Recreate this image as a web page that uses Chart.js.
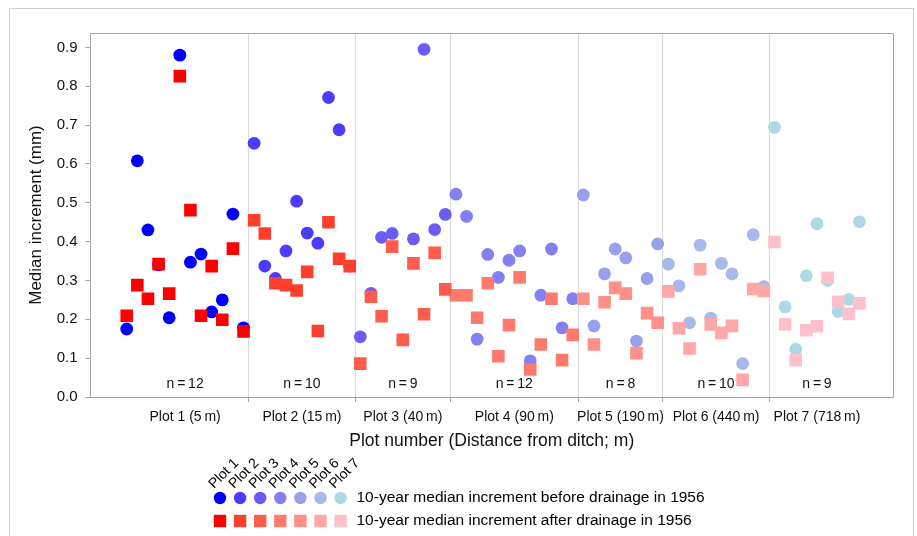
<!DOCTYPE html>
<html>
<head>
<meta charset="utf-8">
<script src="https://cdn.jsdelivr.net/npm/chart.js@4/dist/chart.umd.min.js"></script>
<style>
html,body{margin:0;padding:0;background:#fff;}
#wrap{position:relative;width:917px;height:536px;}
canvas{display:block;}
</style>
</head>
<body>
<div id="wrap"><canvas id="c" width="917" height="536"></canvas></div>
<script>
// ---------------- DATA ----------------
const plotLabels = ['Plot 1 (5\u2009m)', 'Plot 2 (15\u2009m)', 'Plot 3 (40\u2009m)', 'Plot 4 (90\u2009m)', 'Plot 5 (190\u2009m)', 'Plot 6 (440\u2009m)', 'Plot 7 (718\u2009m)'];
const legendPlotNames = ['Plot 1', 'Plot 2', 'Plot 3', 'Plot 4', 'Plot 5', 'Plot 6', 'Plot 7'];
const seriesNames = ['10-year median increment before drainage in 1956', '10-year median increment after drainage in 1956'];
const yTickLabels = ['0.0', '0.1', '0.2', '0.3', '0.4', '0.5', '0.6', '0.7', '0.8', '0.9'];
const xTitle = 'Plot number (Distance from ditch; m)';
const yTitle = 'Median increment (mm)';

// before drainage (circles), one value per tree, in plotted order
const plot1Before = [0.175, 0.608, 0.430, 0.340, 0.204, 0.880, 0.347, 0.368, 0.219, 0.250, 0.471, 0.178];
const plot2Before = [0.653, 0.337, 0.305, 0.376, 0.504, 0.422, 0.396, 0.771, 0.688, 0.337];
const plot3Before = [0.155, 0.267, 0.411, 0.421, 0.147, 0.407, 0.895, 0.431, 0.470];
const plot4Before = [0.522, 0.465, 0.149, 0.367, 0.308, 0.352, 0.376, 0.093, 0.262, 0.381, 0.178, 0.253];
const plot5Before = [0.520, 0.183, 0.317, 0.381, 0.358, 0.144, 0.305, 0.394];
const plot6Before = [0.342, 0.286, 0.191, 0.391, 0.203, 0.344, 0.317, 0.086, 0.418, 0.284];
const plot7Before = [0.694, 0.232, 0.123, 0.312, 0.446, 0.300, 0.220, 0.251, 0.451];

// after drainage (squares)
const plot1After = [0.209, 0.288, 0.253, 0.342, 0.266, 0.826, 0.481, 0.209, 0.337, 0.199, 0.382, 0.169];
const plot2After = [0.455, 0.421, 0.293, 0.288, 0.274, 0.322, 0.170, 0.450, 0.356, 0.337];
const plot3After = [0.086, 0.258, 0.208, 0.387, 0.147, 0.344, 0.213, 0.371, 0.277];
const plot4After = [0.262, 0.262, 0.204, 0.293, 0.105, 0.185, 0.308, 0.071, 0.135, 0.253, 0.095, 0.160];
const plot5After = [0.253, 0.135, 0.244, 0.281, 0.266, 0.113, 0.216, 0.191];
const plot6After = [0.272, 0.177, 0.125, 0.329, 0.187, 0.165, 0.183, 0.044, 0.278, 0.273];
const plot7After = [0.399, 0.187, 0.095, 0.172, 0.182, 0.307, 0.245, 0.214, 0.241];

// ---------------- STYLE ----------------
const beforeColors = ['#0000FF', '#4A3DFF', '#6C5CF7', '#8380F2', '#99A1EE', '#A5B9EC', '#ADD8E6'];
const afterColors  = ['#FF0000', '#FF3F2E', '#FF5C4D', '#FF7A6C', '#FF9089', '#FFA6A6', '#FFC0CB'];
const FONT = '"Liberation Sans", Arial, sans-serif';

const beforeSets = [plot1Before, plot2Before, plot3Before, plot4Before, plot5Before, plot6Before, plot7Before];
const afterSets  = [plot1After, plot2After, plot3After, plot4After, plot5After, plot6After, plot7After];

// build datasets: x = running tree index across plots
const datasets = [];
const sectionStart = [], sectionEnd = [];
let idx = 1;
beforeSets.forEach((b, p) => {
  const a = afterSets[p];
  const start = idx;
  const bPts = b.map((v, k) => ({x: start + k, y: v}));
  const aPts = a.map((v, k) => ({x: start + k, y: v}));
  sectionStart.push(start);
  sectionEnd.push(start + b.length - 1);
  idx += b.length;
  datasets.push({label: legendPlotNames[p] + ' after', data: aPts, pointStyle: 'rect', pointRadius: 8.9,
    backgroundColor: afterColors[p], borderWidth: 0, order: 0});
  datasets.push({label: legendPlotNames[p] + ' before', data: bPts, pointStyle: 'circle', pointRadius: 6.4,
    backgroundColor: beforeColors[p], borderWidth: 0, order: 1});
});
const centers = sectionStart.map((s, i) => (s + sectionEnd[i]) / 2);
const separators = sectionEnd.slice(0, -1).map(e => e + 0.5);
const counts = beforeSets.map(b => b.length);
const centerKey = v => v.toFixed(2);
const labelByCenter = {};
centers.forEach((c, i) => labelByCenter[centerKey(c)] = plotLabels[i]);
const isSep = v => separators.some(s => Math.abs(s - v) < 1e-6);

const extrasPlugin = {
  id: 'extras',
  afterDraw(chart) {
    const ctx = chart.ctx;
    const ca = chart.chartArea;
    const xs = chart.scales.x;
    ctx.save();
    // plot frame top/right
    ctx.strokeStyle = '#A6A6A6';
    ctx.lineWidth = 1;
    ctx.beginPath();
    ctx.moveTo(ca.left, Math.round(ca.top) + 0.5);
    ctx.lineTo(Math.round(ca.right) + 0.5, Math.round(ca.top) + 0.5);
    ctx.lineTo(Math.round(ca.right) + 0.5, ca.bottom);
    ctx.stroke();
    // outer figure frame
    ctx.strokeStyle = '#D0D0D0';
    ctx.strokeRect(9.5, 8.5, 904, 530);
    // n = labels
    ctx.fillStyle = '#111';
    ctx.font = '14px ' + FONT;
    ctx.textAlign = 'center';
    ctx.textBaseline = 'middle';
    centers.forEach((c, i) => {
      ctx.fillText('n\u2009=\u2009' + counts[i], xs.getPixelForValue(c), ca.bottom - 13);
    });
    // legend
    const x0 = 220, dx = 20.1, yC = 498, yS = 521;
    for (let i = 0; i < legendPlotNames.length; i++) {
      const x = x0 + i * dx;
      ctx.save();
      ctx.translate(x - 6, 489);
      ctx.rotate(-Math.PI / 4);
      ctx.font = '14px ' + FONT;
      ctx.textAlign = 'left';
      ctx.textBaseline = 'alphabetic';
      ctx.fillStyle = '#000';
      ctx.fillText(legendPlotNames[i], 0, 0);
      ctx.restore();
      ctx.fillStyle = beforeColors[i];
      ctx.beginPath();
      ctx.arc(x, yC, 6.2, 0, Math.PI * 2);
      ctx.fill();
      ctx.fillStyle = afterColors[i];
      ctx.fillRect(x - 6.2, yS - 6.2, 12.4, 12.4);
    }
    ctx.fillStyle = '#000';
    ctx.font = '15.5px ' + FONT;
    ctx.textAlign = 'left';
    ctx.textBaseline = 'middle';
    ctx.fillText(seriesNames[0], 356.5, yC);
    ctx.fillText(seriesNames[1], 356.5, yS);
    ctx.restore();
  }
};

new Chart(document.getElementById('c'), {
  type: 'scatter',
  data: {datasets},
  plugins: [extrasPlugin],
  options: {
    responsive: false,
    animation: false,
    events: [],
    layout: {padding: {left: 10, top: 33, right: 24, bottom: 84}},
    plugins: {legend: {display: false}, tooltip: {enabled: false}},
    scales: {
      x: {
        type: 'linear',
        min: -2.41,
        max: 73.16,
        afterBuildTicks: s => {
          const vals = separators.concat(centers).sort((a, b) => a - b);
          s.ticks = vals.map(v => ({value: v}));
        },
        afterFit: s => { s.height = 55; },
        ticks: {
          autoSkip: false, maxRotation: 0, minRotation: 0, padding: 7,
          color: '#111', font: {family: FONT, size: 14},
          callback: v => labelByCenter[centerKey(v)] || ''
        },
        grid: {
          drawOnChartArea: true, drawTicks: true, tickLength: 5,
          color: c => (c.tick && isSep(c.tick.value)) ? '#DADADA' : 'rgba(0,0,0,0)',
          tickColor: c => (c.tick && isSep(c.tick.value)) ? '#A6A6A6' : 'rgba(0,0,0,0)'
        },
        border: {display: true, color: '#A6A6A6', width: 1},
        title: {display: true, text: xTitle, color: '#111', font: {family: FONT, size: 17.5}, padding: {top: 0, bottom: 0.5}}
      },
      y: {
        min: 0,
        max: 0.937,
        afterBuildTicks: s => { s.ticks = yTickLabels.map(t => ({value: parseFloat(t)})); },
        afterFit: s => { s.width = 80.5; },
        ticks: {
          padding: 8, color: '#111', font: {family: FONT, size: 15},
          callback: (v, i) => yTickLabels[i]
        },
        grid: {drawOnChartArea: false, drawTicks: true, tickLength: 5, tickColor: '#A6A6A6'},
        border: {display: true, color: '#A6A6A6', width: 1},
        title: {display: true, text: yTitle, color: '#111', font: {family: FONT, size: 17}, padding: {top: 16, bottom: 0}}
      }
    }
  }
});
</script>
</body>
</html>
